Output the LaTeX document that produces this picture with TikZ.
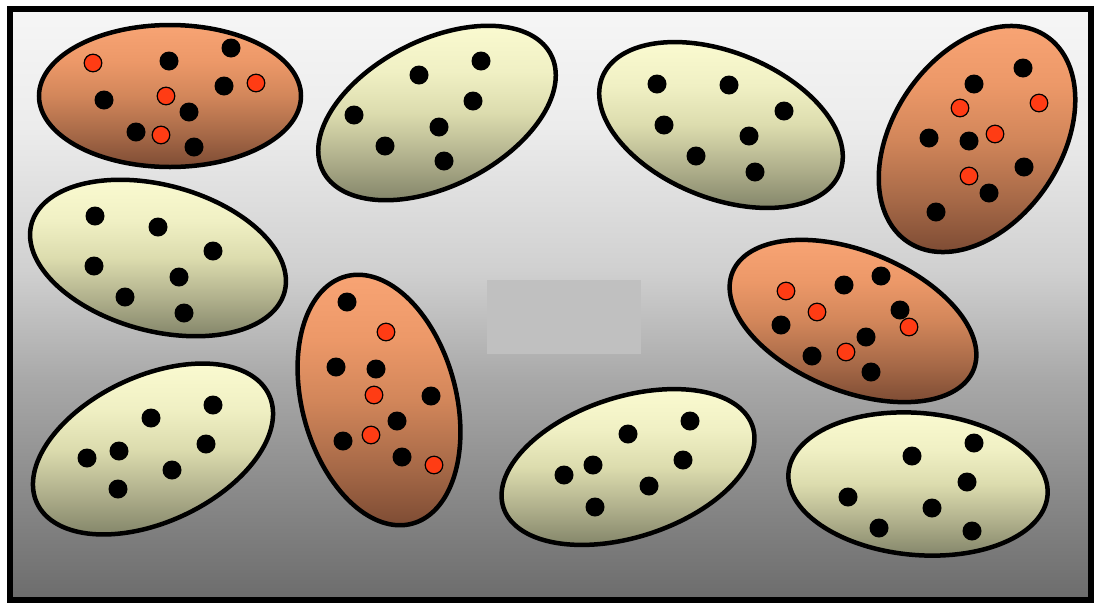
\documentclass[tikz,border=0pt]{standalone}
\definecolor{bgA}{HTML}{6C6C6C}
\definecolor{bgB}{HTML}{A8A8A8}
\definecolor{bgC}{HTML}{D0D0D0}
\definecolor{bgD}{HTML}{ECECEC}
\definecolor{bgE}{HTML}{F6F6F6}
\definecolor{paA}{HTML}{84866A}
\definecolor{paB}{HTML}{B0B08C}
\definecolor{paC}{HTML}{DCDCAE}
\definecolor{paD}{HTML}{F0F0C4}
\definecolor{paE}{HTML}{FAFAD0}
\definecolor{orA}{HTML}{7E4C34}
\definecolor{orB}{HTML}{A86A48}
\definecolor{orC}{HTML}{D2865A}
\definecolor{orD}{HTML}{EC9868}
\definecolor{orE}{HTML}{F8A474}
\definecolor{midgray}{HTML}{C0C0C0}
\definecolor{reddot}{HTML}{FF3C14}
\pgfdeclareverticalshading{bgshade}{100bp}{color(0bp)=(bgA); color(25bp)=(bgA); color(43.5bp)=(bgB); color(52.85bp)=(bgC); color(65bp)=(bgD); color(75bp)=(bgE); color(100bp)=(bgE)}
\pgfdeclareverticalshading{paleshade}{100bp}{color(0bp)=(paA); color(25bp)=(paA); color(37bp)=(paB); color(50bp)=(paC); color(62bp)=(paD); color(75bp)=(paE); color(100bp)=(paE)}
\pgfdeclareverticalshading{orangeshade}{100bp}{color(0bp)=(orA); color(25bp)=(orA); color(37bp)=(orB); color(50bp)=(orC); color(62bp)=(orD); color(75bp)=(orE); color(100bp)=(orE)}
\newcommand\blob[6]{\path[#6] plot[domain=0:360,samples=181,variable=\t] ({#1+#3*cos(\t)*cos(#5)-#4*sin(\t)*sin(#5)},{#2-#3*cos(\t)*sin(#5)-#4*sin(\t)*cos(#5)}) -- cycle;}
\tikzset{
  frame/.style={draw=black,line width=6pt,shading=bgshade},
  pale/.style={draw=black,line width=4.5pt,shading=paleshade},
  orange/.style={draw=black,line width=4.5pt,shading=orangeshade},
  bdot/.style={fill=black},
  rdot/.style={fill=reddot,draw=black,line width=1.2pt},
}
\begin{document}
\begin{tikzpicture}[x=1pt,y=-1pt]
\useasboundingbox[fill=white] (0,0) rectangle (1094,603);
\path[frame] (10,8.5) rectangle (1091,600);
\fill[midgray] (487,280) rectangle (641,354);
% ellipses
\blob{170}{96}{131}{71}{0}{orange}
\blob{437}{113}{128}{73}{27}{pale}
\blob{721}{125}{128}{73}{-22}{pale}
\blob{977}{139}{124}{84}{56}{orange}
\blob{158}{258}{131}{73}{-15}{pale}
\blob{379}{400}{128}{77}{105}{orange}
\blob{853}{321}{130}{70}{-22}{orange}
\blob{153}{449}{128}{73}{25}{pale}
\blob{628}{467}{131}{70}{18}{pale}
\blob{918}{484}{130}{71}{-5}{pale}
% black dots
\foreach \x/\y in {
  169/61,231/48,104/100,224/86,189/112,136/132,194/147,
  419/75,481/61,354/115,473/101,439/127,385/146,444/161,
  657/84,729/85,784/111,664/125,749/136,696/156,755/172,
  1023/68,974/84,929/138,969/141,1024/167,989/193,936/212,
  95/216,158/227,213/251,94/266,179/277,125/297,184/313,
  347/302,336/367,376/369,431/396,397/421,343/441,402/457,
  844/285,881/276,900/310,781/325,866/337,812/356,871/372,
  151/418,213/405,87/458,119/451,206/444,172/470,118/489,
  628/434,690/421,564/475,593/465,683/460,649/486,595/507,
  912/456,974/443,967/482,848/497,932/508,879/528,972/531}
  \fill[bdot] (\x,\y) circle[radius=9.5pt];
% red dots
\foreach \x/\y in {
  93/63,166/96,256/83,161/135,
  960/108,1039/103,995/134,969/176,
  386/332,374/395,371/435,434/465,
  786/291,817/312,909/327,846/352}
  \filldraw[rdot] (\x,\y) circle[radius=8.8pt];
\end{tikzpicture}
\end{document}
